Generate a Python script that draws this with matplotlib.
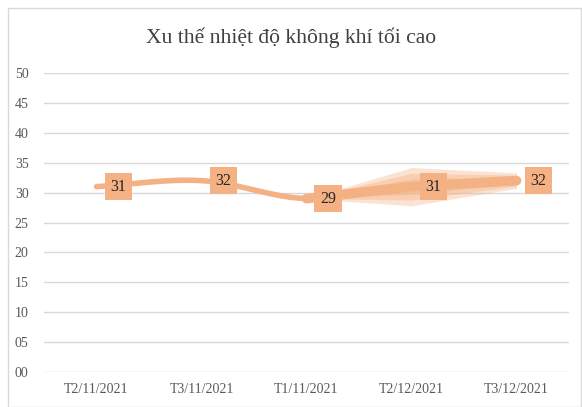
import numpy as np
import matplotlib
matplotlib.use("Agg")
import matplotlib.pyplot as plt
from matplotlib.patches import Rectangle

categories = ["T2/11/2021", "T3/11/2021", "T1/11/2021", "T2/12/2021", "T3/12/2021"]
values = [31, 32, 29, 31, 32]
band_spread = [0, 0, 0, 3.2, 1.3]
title = "Xu thế nhiệt độ không khí tối cao"

ORANGE = "#F4B183"
LINE = "#F4B183"

plt.rcParams['font.family'] = ['Liberation Serif', 'DejaVu Serif']

fig = plt.figure(figsize=(5.82, 4.07), dpi=100)
fig.patches.append(Rectangle((8/582, 0), 1 - 8/582 - 0.001, 1 - 8/407, transform=fig.transFigure,
                             fill=False, edgecolor="#D9D9D9", linewidth=1))
ax = fig.add_axes([44/582, 1 - 372/407, 525/582, 299/407])

x = np.arange(len(categories))

def catmull(xs, ys, n=30):
    xs = np.asarray(xs, float); ys = np.asarray(ys, float)
    P = np.column_stack([xs, ys])
    P = np.vstack([P[0] - (P[1] - P[0]), P, P[-1] + (P[-1] - P[-2])])
    out = []
    for i in range(1, len(P) - 2):
        p0, p1, p2, p3 = P[i-1], P[i], P[i+1], P[i+2]
        t = np.linspace(0, 1, n)[:, None]
        pts = 0.5 * ((2*p1) + (-p0 + p2)*t + (2*p0 - 5*p1 + 4*p2 - p3)*t**2 + (-p0 + 3*p1 - 3*p2 + p3)*t**3)
        out.append(pts if i == len(P) - 3 else pts[:-1])
    o = np.vstack(out)
    return o[:, 0], o[:, 1]

# fan band
xb = x[2:]
vb = np.array(values[2:], float)
sb = np.array(band_spread[2:], float)
for frac, a in [(1.0, 0.35), (0.7, 0.4), (0.4, 0.45)]:
    ax.fill_between(xb, vb - sb*frac, vb + sb*frac, color=ORANGE, alpha=a, linewidth=0, zorder=2)

sx, sy = catmull(x, values)
ax.plot(sx, sy, color=LINE, linewidth=4, solid_capstyle='round', zorder=3)
ax.plot(xb, vb, color=LINE, linewidth=7, solid_capstyle='round', zorder=3)

for xi, v in zip(x, values):
    ax.annotate(str(v), (xi, v), xytext=(15.5, 0), textcoords='offset points',
                ha='center', va='center', fontsize=11.5, color="#262626", zorder=5,
                bbox=dict(boxstyle='square,pad=0.35', facecolor=ORANGE, edgecolor='none'))

ax.set_xlim(-0.5, len(categories) - 0.5)
ax.set_ylim(0, 50)
ax.set_yticks(range(0, 51, 5))
ax.set_yticklabels([f"{t:02d}" for t in range(0, 51, 5)])
ax.set_xticks(x)
ax.set_xticklabels(categories)
ax.tick_params(axis='both', length=0, labelsize=10, labelcolor="#595959")
ax.tick_params(axis='y', pad=11)
ax.tick_params(axis='x', pad=8)
for s in ax.spines.values():
    s.set_visible(False)
ax.grid(axis='y', color="#D9D9D9", linewidth=1)
ax.set_axisbelow(True)

fig.text(0.5, 1 - 38/407, title, ha='center', va='center', fontsize=15.6, color="#404040")

fig.savefig("out.png", dpi=100)
